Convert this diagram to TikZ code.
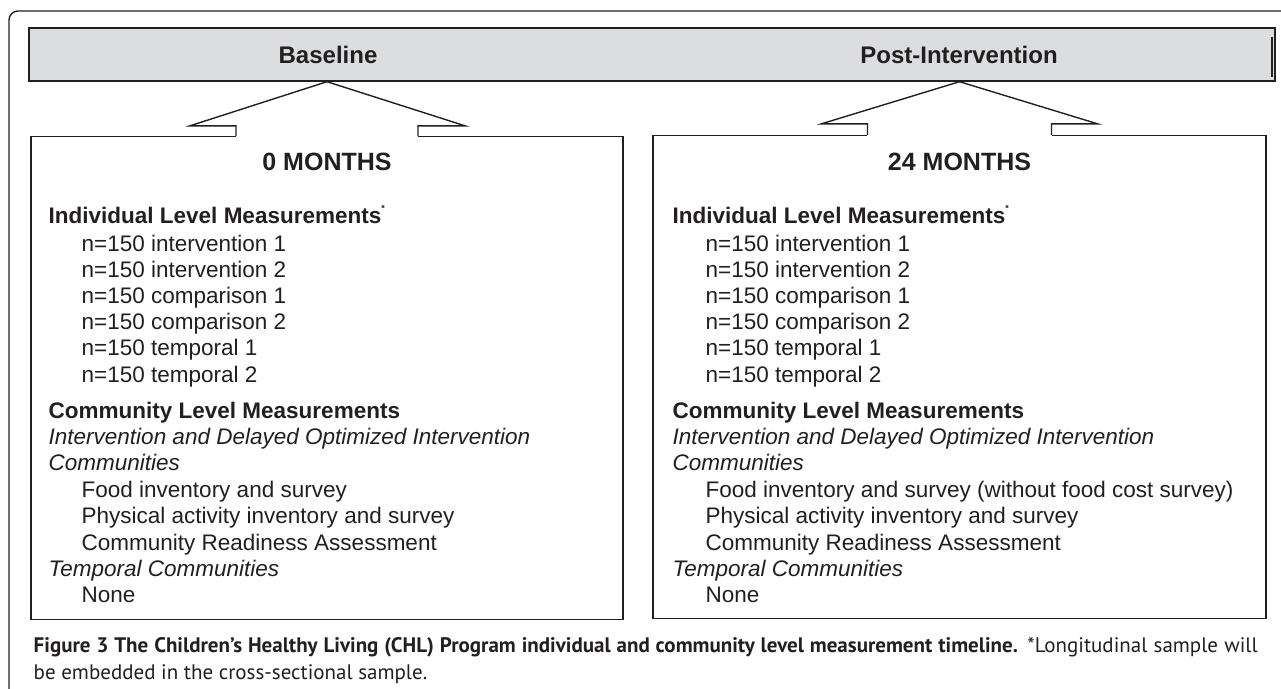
\documentclass[tikz,border=0pt]{standalone}
\usepackage{fontspec}
\setmainfont{Liberation Sans}
\newfontfamily\capfont{PT Sans}
\usetikzlibrary{calc}
\definecolor{ink}{HTML}{231F20}
\definecolor{bargray}{HTML}{DCDDDF}

\begin{document}
\begin{tikzpicture}[x=1pt, y=-1pt, line width=1.4pt, draw=ink,
    every node/.style={inner sep=0pt, text=ink},
    phase/.style={font=\fontsize{24}{28}\selectfont\bfseries},
    month/.style={font=\fontsize{25}{28}\selectfont\bfseries},
    head/.style={anchor=base west, font=\fontsize{22.5}{26}\selectfont\bfseries},
    item/.style={anchor=base west, font=\fontsize{22.5}{26}\selectfont},
    group/.style={anchor=base west, font=\fontsize{22.5}{26}\selectfont\itshape},
    panel/.style={draw, fill=white, minimum width=#1, minimum height=483pt},
    caption/.style={anchor=base west, font=\capfont\fontsize{21}{24}\selectfont}]
    \useasboundingbox (0,0) rectangle (1281,688);
    \clip (0,0) rectangle (1281,688);

    % Frame and timeline bar
    \draw[rounded corners=9pt] (9,720) -- (9,11) -- (1320,11);
    \node[draw, fill=bargray, minimum width=1246pt, minimum height=53pt] (bar) at (652,54.5) {};
    \draw[line width=2pt] (1272,37) -- (1272,77);
    \node[phase] (base) at (328,55) {Baseline};
    \node[phase] (post) at (959,55) {Post-Intervention};

    % Boxes
    \node[panel=592pt] (box0) at (327,378) {};
    \node[panel=613pt] (box24) at (959.5,377) {};

    % Callout arrows from the bar to the boxes
    \coordinate (a0) at (box0.north |- bar.south);
    \fill[white] ($(box0.north)+(-91.3,-1)$) rectangle ($(box0.north)+(91.3,1)$);
    \draw[line join=miter] ($(box0.north)+(-91,0)$) -- ++(0,-10) -- ++(-46,0) -- (a0)
        -- ($(box0.north)+(138,-10)$) -- ++(-47,0) -- ++(0,10);
    \coordinate (a24) at (box24.north |- bar.south);
    \fill[white] ($(box24.north)+(-92.3,-1)$) rectangle ($(box24.north)+(92.3,1)$);
    \draw[line join=miter] ($(box24.north)+(-92,0)$) -- ++(0,-11) -- ++(-46,0) -- (a24)
        -- ($(box24.north)+(138,-11)$) -- ++(-46,0) -- ++(0,11);

    % Left box: 0 months
    \node[month] (m0) at (327,162) {0 MONTHS};
    \node[head] (ind0) at (48,223) {Individual Level Measurements\raisebox{12pt}{\fontsize{9}{9}\selectfont*}};
    \foreach \lbl [count=\i from 0] in {intervention 1, intervention 2, comparison 1,
        comparison 2, temporal 1, temporal 2}
      \node[item] (n0-\i) at (81,251+26.2*\i) {n=150 \lbl};
    \node[head] (com0) at (48,418) {Community Level Measurements};
    \node[group] (grp0a) at (48,444.4) {Intervention and Delayed Optimized Intervention};
    \node[group] (grp0b) at (48,470.8) {Communities};
    \node[item] (food0) at (81,497.2) {Food inventory and survey};
    \node[item] (phys0) at (81,523.6) {Physical activity inventory and survey};
    \node[item] (ready0) at (81,550) {Community Readiness Assessment};
    \node[group] (temp0) at (48,576.4) {Temporal Communities};
    \node[item] (none0) at (81,602.8) {None};

    % Right box: 24 months
    \node[month] (m24) at (959.5,162) {24 MONTHS};
    \node[head] (ind24) at (672,223) {Individual Level Measurements\raisebox{12pt}{\fontsize{9}{9}\selectfont*}};
    \foreach \lbl [count=\i from 0] in {intervention 1, intervention 2, comparison 1,
        comparison 2, temporal 1, temporal 2}
      \node[item] (n24-\i) at (705,251+26.2*\i) {n=150 \lbl};
    \node[head] (com24) at (672,418) {Community Level Measurements};
    \node[group] (grp24a) at (672,444.4) {Intervention and Delayed Optimized Intervention};
    \node[group] (grp24b) at (672,470.8) {Communities};
    \node[item] (food24) at (705,497.2) {Food inventory and survey (without food cost survey)};
    \node[item] (phys24) at (705,523.6) {Physical activity inventory and survey};
    \node[item] (ready24) at (705,550) {Community Readiness Assessment};
    \node[group] (temp24) at (672,576.4) {Temporal Communities};
    \node[item] (none24) at (705,602.8) {None};

    % Caption
    \node[caption] (cap1) at (33,652) {\makebox[1224pt][s]{\textbf{Figure 3 The Children’s Healthy Living (CHL) Program individual and community level measurement timeline.} *Longitudinal sample will}};
    \node[caption] (cap2) at (33,679) {be embedded in the cross-sectional sample.};
\end{tikzpicture}
\end{document}
